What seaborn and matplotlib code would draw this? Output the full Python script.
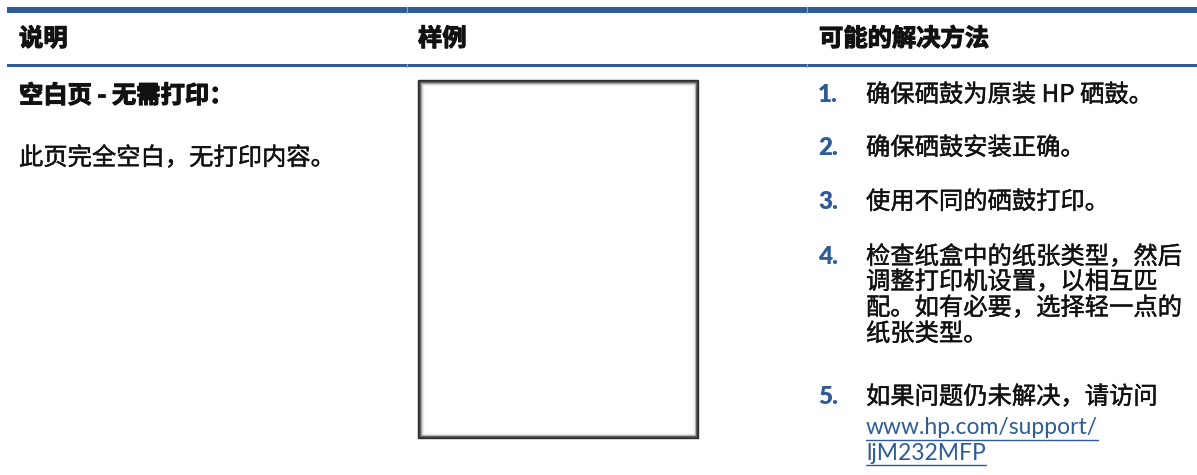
import matplotlib
matplotlib.use("Agg")
import matplotlib.pyplot as plt
import matplotlib.patches as patches
import matplotlib.patheffects as pe
import seaborn as sns

# Table content
headers = ["说明", "样例", "可能的解决方法"]
row_title = "空白页 - 无需打印："
row_desc = "此页完全空白，无打印内容。"
step_nums = ["1.", "2.", "3.", "4.", "5."]
step_lines = [
    ["确保硒鼓为原装 HP 硒鼓。"],
    ["确保硒鼓安装正确。"],
    ["使用不同的硒鼓打印。"],
    ["检查纸盒中的纸张类型，然后", "调整打印机设置，以相互匹", "配。如有必要，选择轻一点的", "纸张类型。"],
    ["如果问题仍未解决，请访问"],
]
link_lines = ["www.hp.com/support/", "ljM232MFP"]

sns.set_theme(style="white")
cjk = ["Noto Sans CJK SC", "DejaVu Sans"]
latin = ["Lato", "Noto Sans CJK SC", "DejaVu Sans"]
plt.rcParams["font.family"] = cjk

blue = "#2f5b96"
ink = "#111111"
fs = 17.5
heavy = [pe.withStroke(linewidth=0.8, foreground=ink)]
medium = [pe.withStroke(linewidth=0.3, foreground=ink)]

fig = plt.figure(figsize=(11.97, 4.75), dpi=100)
ax = fig.add_axes([0, 0, 1, 1])
ax.set_xlim(0, 1197)
ax.set_ylim(475, 0)
ax.axis("off")

# header rules
ax.add_patch(patches.Rectangle((7, 7), 1190, 6, color=blue, lw=0))
ax.add_patch(patches.Rectangle((7, 64), 1190, 3, color=blue, lw=0))
for xs in [407, 807]:
    ax.plot([xs, xs], [7, 13], color="#8ea8cc", lw=0.8)
    ax.plot([xs, xs], [64, 67], color="#8ea8cc", lw=0.8)

col_x = [19, 418, 819]
for x, h in zip(col_x, headers):
    ax.text(x, 39, h, fontsize=fs, fontweight="bold", va="center", ha="left",
            color=ink, path_effects=heavy)

ax.text(19, 96, row_title, fontsize=fs, fontweight="bold", va="center", color=ink,
        path_effects=heavy)
ax.text(19, 158, row_desc, fontsize=fs, va="center", color=ink, path_effects=medium)

# sample blank page with shaded border
x0, y0, x1, y1 = 418, 80, 698, 438
shades = ["#2b2b2b", "#3a3a3a", "#555555", "#9a9a9a", "#cfcfcf", "#ececec"]
for i, c in enumerate(shades):
    ax.add_patch(patches.Rectangle((x0 + i * 0.9, y0 + i * 0.9),
                                   (x1 - x0) - i * 1.8, (y1 - y0) - i * 1.8,
                                   fill=False, edgecolor=c, lw=1.0))

# steps
step_y = [[95], [148], [202], [257, 282, 308, 334], [397]]
for num, lines, ys in zip(step_nums, step_lines, step_y):
    ax.text(818, ys[0], num, fontsize=fs, fontweight="heavy", family=latin,
            color=blue, va="center")
    for line, y in zip(lines, ys):
        ax.text(866, y, line, fontsize=fs, va="center", color=ink, path_effects=medium)

fig.canvas.draw()
renderer = fig.canvas.get_renderer()
inv = ax.transData.inverted()
for line, y in zip(link_lines, [428, 453]):
    t = ax.text(866, y, line, fontsize=16.5, family=latin, color=blue, va="center")
    bb = t.get_window_extent(renderer)
    (lx0, _), (lx1, _) = inv.transform([(bb.x0, 0), (bb.x1, 0)])
    ax.plot([lx0, lx1], [y + 12, y + 12], color=blue, lw=1.0)

fig.savefig("out.png", dpi=100)
